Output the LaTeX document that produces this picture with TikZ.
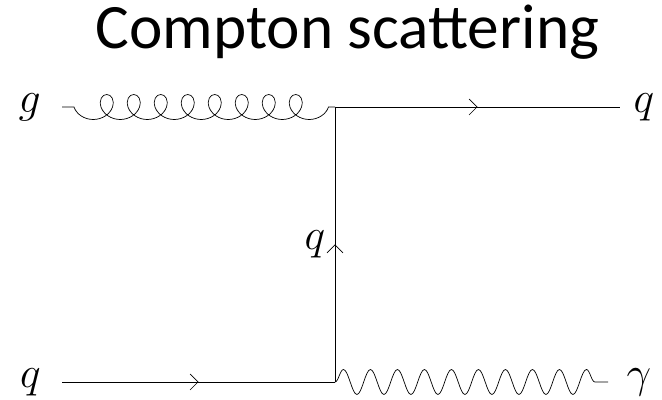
\documentclass[tikz,border=0pt]{standalone}
\usepackage{fontspec}
\newfontfamily\titlefont{Carlito}
\usetikzlibrary{arrows.meta,positioning,decorations.pathmorphing,decorations.markings}
\tikzset{line width=.8pt,
  every node/.style={font=\fontsize{26}{30}\selectfont},
  fermion/.style={draw,postaction={decorate},decoration={markings,
    mark=at position .5 with {\arrow{Straight Barb[length=4.5pt,width=9pt]}}}},
  gluon/.style={draw,decorate,decoration={coil,mirror,aspect=1,amplitude=.25cm,
    segment length=.54cm,pre length=.24cm}},
  photon/.style={draw,decorate,decoration={snake,amplitude=.25cm,
    segment length=.54cm,post length=.26cm}}}

\begin{document}
\begin{tikzpicture}
\path[use as bounding box] (0,0) rectangle (13.24,8);

\node[font=\titlefont\fontsize{36}{42}\selectfont] (title) at (6.95,7.36) {Compton scattering};

\coordinate (vtop) at (6.7,5.86);\coordinate (vbot) at (6.7,.36);
\coordinate (gin) at (1.24,5.86);\coordinate (qout) at (12.4,5.86);
\coordinate (qin) at (1.24,.36);\coordinate (aout) at (12.16,.36);
\node[left=.3cm of gin] (glab) {$g$};
\node[right=.15cm of qout] (qoutlab) {$q$};
\node[left=.3cm of qin] (qinlab) {$q$};
\node[right=.25cm of aout] (alab) {$\gamma$};

\draw[gluon] (gin) -- (vtop);
\draw[fermion] (vtop) -- (qout);
\draw[fermion] (vbot) -- node[left=2pt] (qmid) {$q$} (vtop);
\draw[fermion] (qin) -- (vbot);
\draw[photon] (vbot) -- (aout);
\end{tikzpicture}
\end{document}
